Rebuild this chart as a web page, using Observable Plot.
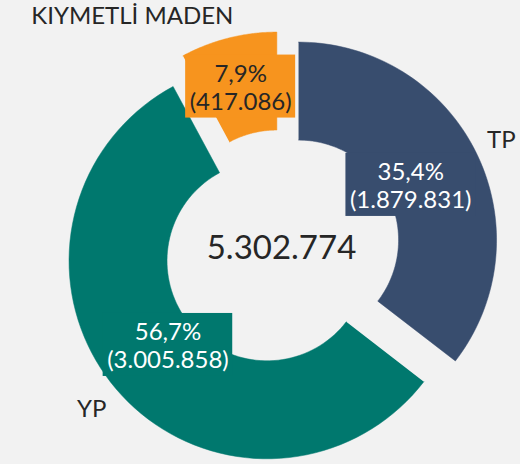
<!DOCTYPE html>
<html><head><meta charset="utf-8">
<script src="https://cdn.jsdelivr.net/npm/d3@7"></script>
<script src="https://cdn.jsdelivr.net/npm/@observablehq/plot@0.6"></script>
<style>html,body{margin:0;padding:0;background:#f2f2f2;overflow:hidden}</style>
</head><body><div id="chart"></div>
<script>
// ---- data ----
const categories = ["TP", "YP", "KIYMETLİ MADEN"];
const values = [1879831, 3005858, 417086];
const percentLabels = ["35,4%", "56,7%", "7,9%"];
const valueLabels = ["(1.879.831)", "(3.005.858)", "(417.086)"];
const totalLabel = "5.302.774";

// ---- style / layout ----
const colors = ["#384d6e", "#00786e", "#f7941e"];
const labelInk = ["#ffffff", "#ffffff", "#262626"];
const FONT = "Lato, 'Open Sans', sans-serif";
const PX = 198;                 // pixels per data unit (outer radius = 1)
const innerR = 100 / PX;
const explode = 19 / PX;
const valueLabelR = [125 / PX, 130 / PX, 148 / PX];
const nameLabel = [ {r: 226 / PX, da: 0}, {r: 230 / PX, da: 0}, {r: 258 / PX, da: -19.9 * Math.PI / 180} ];

const W = 520, H = 464;
const cxPx = 281, cyPx = 248;

const pie = d3.pie().sort(null).value(d => d.value)(categories.map((c, i) => ({key: c, value: values[i], i})));

const pt = (c, r, a) => [c[0] + r * Math.sin(a), c[1] + r * Math.cos(a)];

const slices = pie.map(p => {
  const mid = (p.startAngle + p.endAngle) / 2;
  const c = pt([0, 0], explode, mid);
  const n = 80, pts = [];
  for (let k = 0; k <= n; k++) { const a = p.startAngle + (p.endAngle - p.startAngle) * k / n; pts.push(pt(c, 1, a)); }
  for (let k = n; k >= 0; k--) { const a = p.startAngle + (p.endAngle - p.startAngle) * k / n; pts.push(pt(c, innerR, a)); }
  return {i: p.data.i, key: p.data.key, mid, c, pts: pts.map(([x, y]) => ({x, y}))};
});

const ctx = document.createElement("canvas").getContext("2d");
ctx.font = "24px Lato";
const labels = slices.map(s => {
  const [x, y] = pt(s.c, valueLabelR[s.i], s.mid);
  const w = Math.max(ctx.measureText(percentLabels[s.i]).width, ctx.measureText(valueLabels[s.i]).width) + 8;
  const h = 63;
  const nl = nameLabel[s.i];
  const [nx, ny] = pt(s.c, nl.r, s.mid + nl.da);
  return {i: s.i, x, y, x1: x - w / 2 / PX, x2: x + w / 2 / PX, y1: y - h / 2 / PX, y2: y + h / 2 / PX,
          text: percentLabels[s.i] + "\n" + valueLabels[s.i], nx, ny, name: categories[s.i]};
});

const chart = Plot.plot({
  width: W, height: H, margin: 0,
  style: {background: "#f2f2f2", fontFamily: FONT},
  x: {domain: [-cxPx / PX, (W - cxPx) / PX], range: [0, W], axis: null},
  y: {domain: [-(H - cyPx) / PX, cyPx / PX], range: [H, 0], axis: null},
  marks: [
    ...slices.map(s => Plot.line(s.pts, {x: "x", y: "y", fill: colors[s.i], stroke: colors[s.i], strokeWidth: 0.5, curve: "linear"})),
    ...labels.map(l => Plot.rect([l], {x1: "x1", x2: "x2", y1: "y1", y2: "y2", fill: colors[l.i]})),
    ...labels.map(l => Plot.text([l], {x: "x", y: "y", text: "text", fill: labelInk[l.i], fontSize: 24, lineHeight: 1.17, fontFamily: FONT})),
    Plot.text(labels, {x: "nx", y: "ny", text: "name", fill: "#262626", fontSize: 24, fontFamily: FONT}),
    Plot.text([totalLabel], {x: () => 0, y: () => 0, text: d => d, fill: "#262626", fontSize: 33, fontFamily: FONT})
  ]
});
document.getElementById("chart").append(chart);
</script>
</body></html>
